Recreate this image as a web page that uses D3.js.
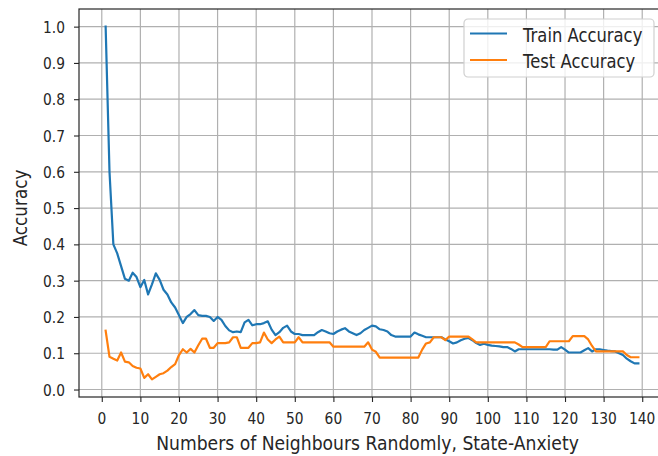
<!DOCTYPE html>
<html>
<head>
<meta charset="utf-8">
<script src="https://cdn.jsdelivr.net/npm/d3@7"></script>
<style>
  html, body { margin: 0; padding: 0; background: #fff; }
  svg { display: block; }
  text { font-family: "DejaVu Sans", sans-serif; fill: #262626; }
</style>
</head>
<body>
<svg id="chart" width="658" height="456"></svg>
<script>
// Number of neighbours k = 1..139
const neighbours = d3.range(1, 140);

const trainAccuracy = [
  1.000, 0.600, 0.400, 0.375, 0.340, 0.305, 0.300, 0.322, 0.310, 0.282,
  0.302, 0.262, 0.290, 0.320, 0.302, 0.275, 0.262, 0.240, 0.226, 0.205,
  0.183, 0.200, 0.208, 0.219, 0.205, 0.203, 0.203, 0.200, 0.189, 0.200,
  0.192, 0.175, 0.163, 0.158, 0.160, 0.158, 0.185, 0.192, 0.177, 0.180,
  0.180, 0.183, 0.188, 0.165, 0.150, 0.158, 0.170, 0.176, 0.160, 0.153,
  0.153, 0.150, 0.150, 0.150, 0.150, 0.158, 0.164, 0.160, 0.155, 0.153,
  0.160, 0.165, 0.169, 0.160, 0.155, 0.150, 0.155, 0.164, 0.170, 0.176,
  0.174, 0.166, 0.164, 0.160, 0.150, 0.146, 0.146, 0.146, 0.146, 0.146,
  0.157, 0.152, 0.148, 0.144, 0.144, 0.144, 0.144, 0.144, 0.138, 0.133,
  0.127, 0.130, 0.136, 0.140, 0.142, 0.136, 0.128, 0.123, 0.126, 0.123,
  0.121, 0.120, 0.119, 0.117, 0.117, 0.112, 0.105, 0.111, 0.111, 0.111,
  0.111, 0.111, 0.111, 0.111, 0.111, 0.111, 0.110, 0.110, 0.117, 0.110,
  0.102, 0.102, 0.102, 0.102, 0.108, 0.114, 0.105, 0.111, 0.111, 0.109,
  0.107, 0.106, 0.105, 0.100, 0.095, 0.085, 0.078, 0.072, 0.072
];

const testAccuracy = [
  0.162, 0.090, 0.085, 0.080, 0.102, 0.077, 0.075, 0.065, 0.060, 0.058,
  0.032, 0.042, 0.028, 0.035, 0.042, 0.045, 0.052, 0.062, 0.070, 0.095,
  0.111, 0.102, 0.112, 0.102, 0.122, 0.140, 0.140, 0.115, 0.115, 0.128,
  0.128, 0.128, 0.130, 0.144, 0.144, 0.115, 0.115, 0.115, 0.128, 0.128,
  0.130, 0.157, 0.138, 0.128, 0.138, 0.146, 0.130, 0.130, 0.130, 0.130,
  0.144, 0.130, 0.130, 0.130, 0.130, 0.130, 0.130, 0.130, 0.130, 0.118,
  0.118, 0.118, 0.118, 0.118, 0.118, 0.118, 0.118, 0.118, 0.130, 0.110,
  0.104, 0.088, 0.088, 0.088, 0.088, 0.088, 0.088, 0.088, 0.088, 0.088,
  0.088, 0.088, 0.110, 0.127, 0.130, 0.144, 0.144, 0.144, 0.136, 0.146,
  0.146, 0.146, 0.146, 0.146, 0.146, 0.138, 0.130, 0.130, 0.130, 0.130,
  0.130, 0.130, 0.130, 0.130, 0.130, 0.130, 0.130, 0.124, 0.117, 0.117,
  0.117, 0.117, 0.117, 0.117, 0.117, 0.133, 0.133, 0.133, 0.133, 0.133,
  0.133, 0.147, 0.147, 0.147, 0.147, 0.138, 0.120, 0.105, 0.105, 0.105,
  0.105, 0.105, 0.105, 0.105, 0.105, 0.095, 0.089, 0.089, 0.089
];

const xTicks = d3.range(0, 141, 10);
const yTicks = d3.range(0, 11).map(i => i / 10);

const seriesNames = ["Train Accuracy", "Test Accuracy"];
const seriesColors = ["#1f77b4", "#ff7f0e"];
const xLabel = "Numbers of Neighbours Randomly, State-Anxiety";
const yLabel = "Accuracy";

// Layout
const plot = { left: 79, top: 9, right: 665, bottom: 397 };
const textStretch = 1.15;   // glyphs are drawn a little taller than wide

const svg = d3.select("#chart");

// Axis limits with 5% padding around the data, as matplotlib does
const xMin = d3.min(neighbours), xMax = d3.max(neighbours);
const allY = trainAccuracy.concat(testAccuracy);
const yMin = d3.min(allY), yMax = d3.max(allY);
const xPad = (xMax - xMin) * 0.05, yPad = (yMax - yMin) * 0.05;

const x = d3.scaleLinear().domain([xMin - xPad, xMax + xPad]).range([plot.left, plot.right]);
const y = d3.scaleLinear().domain([yMin - yPad, yMax + yPad]).range([plot.bottom, plot.top]);

function addText(g, px, py, str, size, anchor, angle = 0) {
  return g.append("text")
    .attr("transform", `translate(${px},${py}) rotate(${angle}) scale(1,${textStretch})`)
    .attr("text-anchor", anchor)
    .attr("font-size", size)
    .text(str);
}

// Grid
const grid = svg.append("g").attr("stroke", "#b0b0b0").attr("stroke-width", 1.2);
grid.selectAll("line.vx").data(xTicks).join("line")
  .attr("x1", d => x(d)).attr("x2", d => x(d))
  .attr("y1", plot.top).attr("y2", plot.bottom);
grid.selectAll("line.hy").data(yTicks).join("line")
  .attr("y1", d => y(d)).attr("y2", d => y(d))
  .attr("x1", plot.left).attr("x2", plot.right);

// Lines
const series = [trainAccuracy, testAccuracy];
const line = d3.line().x((d, i) => x(neighbours[i])).y(d => y(d));
series.forEach((vals, i) => {
  svg.append("path")
    .datum(vals)
    .attr("fill", "none")
    .attr("stroke", seriesColors[i])
    .attr("stroke-width", 2.2)
    .attr("stroke-linejoin", "round")
    .attr("stroke-linecap", "square")
    .attr("d", line);
});

// Axes: tick marks from d3, labels drawn separately
const xAxis = d3.axisBottom(x).tickValues(xTicks).tickFormat("").tickSize(5);
const yAxis = d3.axisLeft(y).tickValues(yTicks).tickFormat("").tickSize(5);
const gx = svg.append("g").attr("transform", `translate(0,${plot.bottom})`).call(xAxis);
const gy = svg.append("g").attr("transform", `translate(${plot.left},0)`).call(yAxis);
[gx, gy].forEach(g => {
  g.select(".domain").remove();
  g.selectAll(".tick line").attr("stroke", "#262626").attr("stroke-width", 1.1);
});

const tickLabels = svg.append("g");
const fmtX = d3.format("d"), fmtY = d3.format(".1f");
xTicks.forEach(t => addText(tickLabels, x(t), 424, fmtX(t), 13.8, "middle"));
yTicks.forEach(t => addText(tickLabels, 65, y(t) + 6, fmtY(t), 13.8, "end"));

// Frame
svg.append("rect")
  .attr("x", plot.left).attr("y", plot.top)
  .attr("width", plot.right - plot.left).attr("height", plot.bottom - plot.top)
  .attr("fill", "none").attr("stroke", "#262626").attr("stroke-width", 1.2);

// Axis labels
addText(svg, 367.5, 450, xLabel, 17.2, "middle");
addText(svg, 26.5, 208, yLabel, 16.8, "middle", -90);

// Legend
const legend = svg.append("g").attr("transform", "translate(464,19)");
legend.append("rect")
  .attr("width", 190).attr("height", 58).attr("rx", 4)
  .attr("fill", "#fff").attr("fill-opacity", 0.8)
  .attr("stroke", "#d0d0d0").attr("stroke-width", 1.2);
seriesNames.forEach((name, i) => {
  const cy = 14.5 + i * 26.5;
  legend.append("line")
    .attr("x1", 6).attr("x2", 43).attr("y1", cy).attr("y2", cy)
    .attr("stroke", seriesColors[i]).attr("stroke-width", 2.2);
  addText(legend, 59, cy + 8, name, 16.4, "start");
});
</script>
</body>
</html>
